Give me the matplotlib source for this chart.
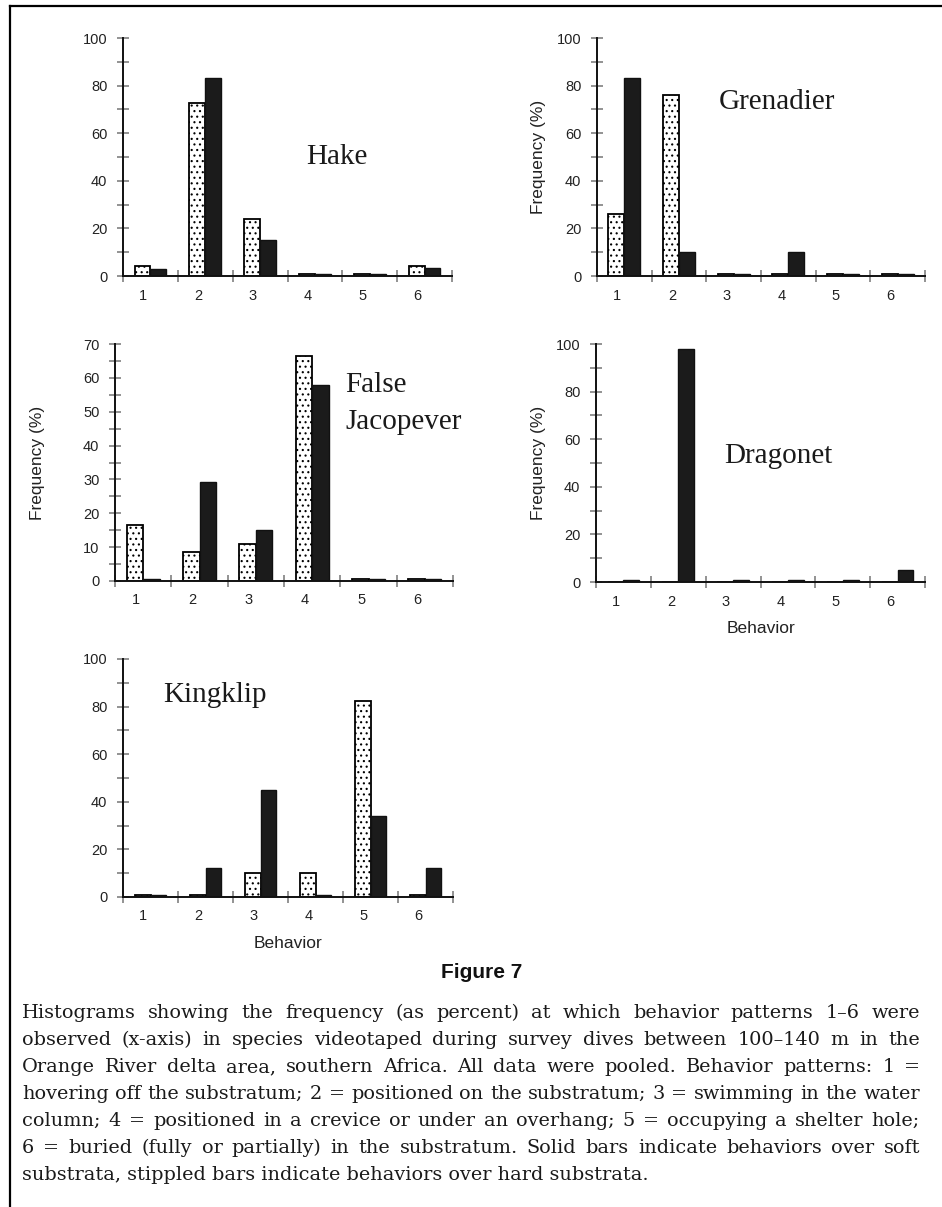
import matplotlib
matplotlib.use("Agg")
import matplotlib.pyplot as plt
from matplotlib.ticker import MultipleLocator, FixedLocator, NullFormatter, FixedFormatter
from matplotlib.lines import Line2D

W, H = 942, 1207

behaviors = [1, 2, 3, 4, 5, 6]

# frequency (%) per behavior, hard (stippled) and soft (solid) substrata
hake_hard = [4, 72.5, 24, 1, 1, 4]
hake_soft = [3, 83, 15, 1, 1, 3.5]

grenadier_hard = [26, 76, 1, 1, 1, 1]
grenadier_soft = [83, 10, 1, 10, 1, 1]

jacopever_hard = [16.5, 8.5, 11, 66.5, 0.5, 0.5]
jacopever_soft = [0.6, 29.3, 15, 58, 0.5, 0.5]

dragonet_hard = [0, 0, 0, 0, 0, 0]
dragonet_soft = [1, 98, 1, 1, 1, 5]

kingklip_hard = [1, 1, 10, 10, 82.5, 1]
kingklip_soft = [1, 12, 45, 1, 34, 12]

caption_lines = [
    "Histograms showing the frequency (as percent) at which behavior patterns 1\u20136 were",
    "observed (x-axis) in species videotaped during survey dives between 100\u2013140 m in the",
    "Orange River delta area, southern Africa. All data were pooled. Behavior patterns: 1 =",
    "hovering off the substratum; 2 = positioned on the substratum; 3 = swimming in the water",
    "column; 4 = positioned in a crevice or under an overhang; 5 = occupying a shelter hole;",
    "6 = buried (fully or partially) in the substratum. Solid bars indicate behaviors over soft",
    "substrata, stippled bars indicate behaviors over hard substrata.",
]

plt.rcParams["hatch.linewidth"] = 0.8
plt.rcParams["font.family"] = ["Liberation Sans", "DejaVu Sans"]

fig = plt.figure(figsize=(W / 100, H / 100), dpi=100)


def fx(x):
    return x / W


def fy(y):
    return 1 - y / H


def rect(left, right, bottom, top):
    return [fx(left), fy(bottom), fx(right) - fx(left), fy(top) - fy(bottom)]


tick_grey = "#8a8a8a"
text_col = "#222222"
bw = 0.29


def panel(r, hard, soft, ymax, major, minor, ylabel_x=None, xlabel=False):
    ax = fig.add_axes(r)
    ax.bar([b - bw / 2 for b in behaviors], hard, width=bw, facecolor="white",
           edgecolor="black", linewidth=1.3, hatch="...", zorder=2)
    ax.bar([b + bw / 2 for b in behaviors], soft, width=bw, facecolor="#1b1b1b",
           edgecolor="#111111", linewidth=1.0, zorder=2)
    ax.set_xlim(0.5, 6.5)
    ax.set_ylim(0, ymax)
    for s in ["top", "right"]:
        ax.spines[s].set_visible(False)
    for s in ["left", "bottom"]:
        ax.spines[s].set_linewidth(1.4)
        ax.spines[s].set_color("#111111")
        ax.spines[s].set_zorder(3)
    ax.yaxis.set_major_locator(MultipleLocator(major))
    ax.yaxis.set_minor_locator(MultipleLocator(minor))
    ax.tick_params(axis="y", which="both", direction="inout", length=8.5, width=1.3,
                   color=tick_grey, labelsize=10.5, labelcolor=text_col, pad=7)
    # category boundaries carry the tick marks, labels sit a little left of centre
    ax.xaxis.set_major_locator(FixedLocator([b - 0.5 for b in behaviors] + [6.5]))
    ax.xaxis.set_major_formatter(NullFormatter())
    ax.xaxis.set_minor_locator(FixedLocator([b - 0.13 for b in behaviors]))
    ax.xaxis.set_minor_formatter(FixedFormatter([str(b) for b in behaviors]))
    ax.tick_params(axis="x", which="major", direction="inout", length=8.5, width=1.3,
                   color=tick_grey)
    ax.tick_params(axis="x", which="minor", length=0, labelsize=10.5,
                   labelcolor=text_col, pad=9)
    if ylabel_x is not None:
        ax.set_ylabel("Frequency (%)", fontsize=12.5, color=text_col)
        ax.yaxis.set_label_coords(ylabel_x, r[1] + r[3] / 2, transform=fig.transFigure)
    if xlabel:
        ax.set_xlabel("Behavior", fontsize=12.5, color=text_col, labelpad=9)
    return ax


panel(rect(123, 452, 276, 38), hake_hard, hake_soft, 100, 20, 10)
panel(rect(597, 925, 276, 38), grenadier_hard, grenadier_soft, 100, 20, 10,
      ylabel_x=fx(546))
panel(rect(115, 453, 581, 344), jacopever_hard, jacopever_soft, 70, 10, 5,
      ylabel_x=fx(45))
panel(rect(596, 925, 582, 344), dragonet_hard, dragonet_soft, 100, 20, 10,
      ylabel_x=fx(546), xlabel=True)
panel(rect(123, 453, 897, 659), kingklip_hard, kingklip_soft, 100, 20, 10, xlabel=True)

# species names
serif = dict(family=["Liberation Serif", "DejaVu Serif"], fontsize=21, color="#1a1a1a")
fig.text(fx(337), fy(157), "Hake", ha="center", va="center", **serif)
fig.text(fx(777), fy(102), "Grenadier", ha="center", va="center", **serif)
fig.text(fx(345), fy(385), "False", ha="left", va="center", **serif)
fig.text(fx(345), fy(422), "Jacopever", ha="left", va="center", **serif)
fig.text(fx(778), fy(456), "Dragonet", ha="center", va="center", **serif)
fig.text(fx(215), fy(695), "Kingklip", ha="center", va="center", **serif)

fig.text(fx(482), fy(972), "Figure 7", ha="center", va="center", fontsize=15,
         fontweight="bold", family=["Liberation Sans Narrow", "Liberation Sans"],
         color="#111111")

# justified caption
renderer = fig.canvas.get_renderer()
cap_font = dict(family=["DejaVu Serif"], color="#1a1a1a")
x0, x1 = 22, 920
base_fs = 12
widths = []
for line in caption_lines[:-1]:
    t = fig.text(0, 0, line, fontsize=base_fs, **cap_font)
    widths.append(t.get_window_extent(renderer).width)
    t.remove()
cap_fs = base_fs * (x1 - x0) / max(widths) * 0.985

for i, line in enumerate(caption_lines):
    yb = 1018 + i * 27
    if i == len(caption_lines) - 1:
        fig.text(fx(x0), fy(yb), line, fontsize=cap_fs, va="baseline", **cap_font)
        continue
    words = line.split(" ")
    arts = [fig.text(0, fy(yb), w, fontsize=cap_fs, va="baseline", **cap_font) for w in words]
    ws = [a.get_window_extent(renderer).width for a in arts]
    gap = ((x1 - x0) - sum(ws)) / (len(words) - 1)
    x = x0
    for a, w in zip(arts, ws):
        a.set_x(fx(x))
        x += w + gap

# frame lines at top and left
fig.add_artist(Line2D([fx(10), 1], [fy(6), fy(6)], color="black", lw=1.6))
fig.add_artist(Line2D([fx(10), fx(10)], [fy(6), 0], color="black", lw=1.6))

fig.savefig("out.png", dpi=100)
